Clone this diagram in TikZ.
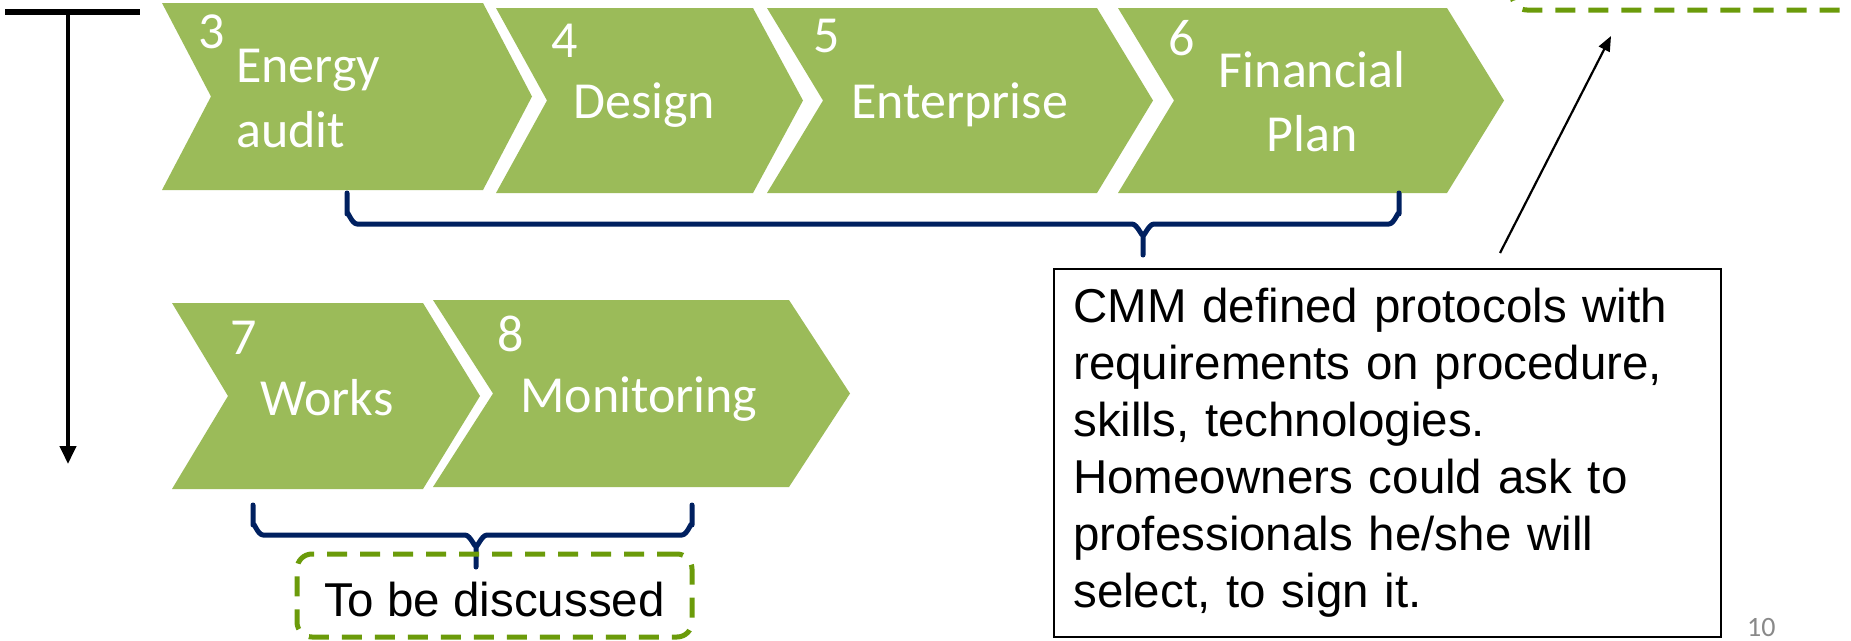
\documentclass[tikz,border=0pt]{standalone}
\usepackage{fontspec}
\setmainfont{Liberation Sans}
\newfontfamily\calibri{Carlito}
\usetikzlibrary{arrows.meta}
\definecolor{chev}{RGB}{155,187,89}
\definecolor{bracec}{RGB}{0,32,96}
\definecolor{dgreen}{RGB}{107,155,10}
\definecolor{pagegray}{RGB}{137,137,137}
\begin{document}
\begin{tikzpicture}[x=1pt,y=-1pt,
  chevfill/.style={fill=chev,draw=none},
  wtxt/.style={text=white,font=\calibri\fontsize{52}{62}\selectfont,inner sep=0pt,anchor=base west},
  wtxtc/.style={wtxt,anchor=base},
  bracepath/.style={draw=bracec,line width=5pt,line join=round,line cap=round},
  dashgreen/.style={draw=dgreen,line width=5pt,dash pattern=on 20pt off 13pt,rounded corners=15pt},
  blackarrow/.style={draw=black,line width=2.2pt,-{Triangle[length=15pt,width=12pt]}}]
\useasboundingbox (0,0) rectangle (1851,640);
\clip (0,0) rectangle (1851,640);
% timeline arrow
\coordinate (tl) at (5,12);
\coordinate (tr) at (140,12);
\coordinate (ttop) at (68,12);
\coordinate (tbot) at (68,464);
\draw[line width=5.5pt] (tl) -- (tr);
\draw[line width=4pt,-{Triangle[length=18pt,width=16pt]}] (ttop) -- (tbot);
% chevrons row 1
\path[chevfill] (162,3) -- (483,3) -- (532,96.5) -- (483,190) -- (162,190) -- (211,96.5) -- cycle;
\path[chevfill] (496,8) -- (753,8) -- (803,100.5) -- (753,193) -- (496,193) -- (547,100.5) -- cycle;
\path[chevfill] (767,8) -- (1097,8) -- (1153,100.5) -- (1097,193) -- (767,193) -- (823,100.5) -- cycle;
\path[chevfill] (1118,8) -- (1447,8) -- (1504,100.5) -- (1447,193) -- (1118,193) -- (1174,100.5) -- cycle;
% chevrons row 2
\path[chevfill] (172,303) -- (423,303) -- (480,396) -- (423,489) -- (172,489) -- (228,396) -- cycle;
\path[chevfill] (433,300) -- (789,300) -- (850,393.5) -- (789,487) -- (433,487) -- (493,393.5) -- cycle;
% chevron texts
\node[wtxt] (n3) at (198,48) {3};
\node[wtxt] (t3a) at (236,82) {Energy};
\node[wtxt] (t3b) at (236,147) {audit};
\node[wtxt] (n4) at (551,57) {4};
\node[wtxt] (t4) at (573,118) {Design};
\node[wtxt] (n5) at (813,52) {5};
\node[wtxt] (t5) at (851,118) {Enterprise};
\node[wtxt] (n6) at (1168,55) {6};
\node[wtxtc] (t6a) at (1312,87) {Financial};
\node[wtxtc] (t6b) at (1312,151) {Plan};
\node[wtxt] (n7) at (230,354) {7};
\node[wtxt] (t7) at (260,415) {Works};
\node[wtxt] (n8) at (497,351) {8};
\node[wtxt] (t8) at (520,412) {Monitoring};
% brace 1
\path[bracepath] (347,193) -- (347,214) to[out=90,in=180] (357,224) -- (1132,224) to[out=0,in=-90] (1143,234) -- (1143,255);
\path[bracepath] (1143,234) to[out=-90,in=180] (1154,224) -- (1389,224) to[out=0,in=90] (1399,214) -- (1399,193);
% brace 2
\path[bracepath] (253,505) -- (253,525) to[out=90,in=180] (263,535) -- (465,535) to[out=0,in=-90] (476,545) -- (476,567);
\path[bracepath] (476,545) to[out=-90,in=180] (487,535) -- (682,535) to[out=0,in=90] (692,525) -- (692,505);
% to be discussed box
\node[dashgreen,minimum width=395pt,minimum height=83pt,inner sep=0pt,text height=41pt,text depth=0pt,
  font=\fontsize{47.5}{57}\selectfont] (tbd) at (494.5,595.5) {To be discussed};
% top right dashed box (cut off)
\path[dashgreen] (1512,-100) rectangle (1900,10);
% arrow
\coordinate (a1) at (1500,253);
\coordinate (a2) at (1611,36);
\draw[blackarrow] (a1) -- (a2);
% text box
\node[draw=black,line width=1.5pt,anchor=north west,minimum width=667pt,minimum height=368pt,
  inner xsep=19pt,inner ysep=0pt,text width=628pt,align=left,
  font=\fontsize{47.5}{57}\selectfont] (cmm) at (1053,268)
  {CMM defined protocols with\\requirements on procedure,\\skills, technologies.\\Homeowners could ask to\\professionals he/she will\\select, to sign it.};
% page number
\node[text=pagegray,font=\calibri\fontsize{28}{30}\selectfont,inner sep=0pt,anchor=base west] (pg) at (1747,636) {10};
\end{tikzpicture}
\end{document}
